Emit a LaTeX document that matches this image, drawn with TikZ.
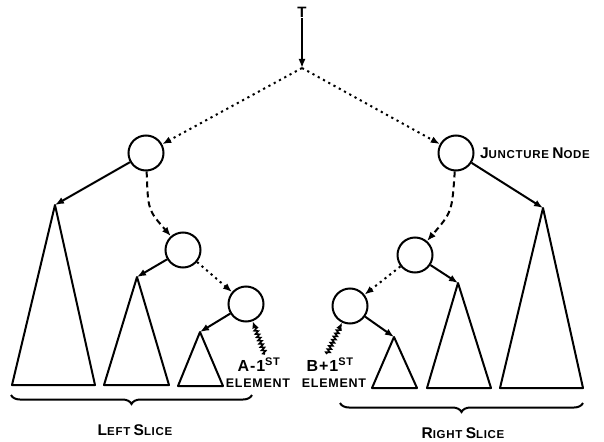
\documentclass[tikz,border=0pt]{standalone}
\usepackage{fontspec}
\setmainfont{Liberation Sans}[LetterSpace=6]
\usetikzlibrary{arrows.meta,decorations.pathmorphing,decorations.pathreplacing}
\newcommand{\bigsc}[2]{{\fontsize{15.5}{15.5}\selectfont #1}{\fontsize{11.5}{11.5}\selectfont #2}}
\begin{document}
\begin{tikzpicture}[x=1pt,y=-1pt, line width=2pt,
  nd/.style={circle,draw,minimum size=35pt,inner sep=0pt,line width=2pt},
  arr/.style={-{Latex[length=9pt,width=7pt]}},
  dotline/.style={arr,dash pattern=on 2.2pt off 3.8pt},
  dashline/.style={arr,dash pattern=on 6pt off 4pt},
  squig/.style={-{Latex[length=7pt,width=6pt]},line width=1.6pt,decorate,
    decoration={snake,amplitude=1.8pt,segment length=3.5pt,post length=6pt}},
  lbl/.style={font=\bfseries,inner sep=0pt},
  brc/.style={decorate,decoration={brace,amplitude=9pt,mirror},line width=2pt}]
\useasboundingbox (0,0) rectangle (604,441);
% top
\node[lbl,font=\bfseries\fontsize{15}{15}\selectfont] (T) at (302,12) {T};
\coordinate (top) at (302,68);
\draw[arr] (T.south) -- (top);
% nodes
\node[nd] (L1) at (146,153) {};
\node[nd] (L2) at (183,250) {};
\node[nd] (L3) at (246,304) {};
\node[nd] (R1) at (456,153) {};
\node[nd] (R2) at (415,255) {};
\node[nd] (R3) at (350,306) {};
% triangle apexes
\coordinate (ta1) at (55,205);
\coordinate (ta2) at (137,277);
\coordinate (ta3) at (200,332);
\coordinate (tb3) at (394,337);
\coordinate (tb2) at (458,283);
\coordinate (tb1) at (543,208);
% triangles
\draw[line join=round] (ta1) -- (12,385) -- (95,385) -- cycle;
\draw[line join=round] (ta2) -- (104,385) -- (169,385) -- cycle;
\draw[line join=round] (ta3) -- (178,386) -- (223,386) -- cycle;
\draw[line join=round] (tb3) -- (372,388) -- (417,388) -- cycle;
\draw[line join=round] (tb2) -- (427,388) -- (491,388) -- cycle;
\draw[line join=round] (tb1) -- (500,388) -- (583,388) -- cycle;
% edges
\draw[dotline] (top) -- (L1);
\draw[dotline] (top) -- (R1);
\draw[dashline] (L1) .. controls (148,210) .. (L2);
\draw[dashline] (R1) .. controls (452,212) .. (R2);
\draw[dotline] (L2) -- (L3);
\draw[dotline] (R2) -- (R3);
\draw[arr] (L1) -- (ta1);
\draw[arr] (L2) -- (ta2);
\draw[arr] (L3) -- (ta3);
\draw[arr] (R1) -- (tb1);
\draw[arr] (R2) -- (tb2);
\draw[arr] (R3) -- (tb3);
% labels
\node[lbl,anchor=west] (J) at (479,153) {\bigsc{J}{UNCTURE} \bigsc{N}{ODE}};
\node[lbl] (A1) at (259,365) {\fontsize{16}{16}\selectfont A-1\textsuperscript{\fontsize{11}{11}\selectfont ST}};
\node[lbl] (A2) at (258,383) {\fontsize{12.5}{12.5}\selectfont ELEMENT};
\node[lbl] (B1) at (330,365) {\fontsize{16}{16}\selectfont B+1\textsuperscript{\fontsize{11}{11}\selectfont ST}};
\node[lbl] (B2) at (334,383) {\fontsize{12.5}{12.5}\selectfont ELEMENT};
\coordinate (sa) at (265,354);
\coordinate (sb) at (327,354);
\draw[squig] (sa) -- (L3);
\draw[squig] (sb) -- (R3);
% braces
\coordinate (lb1) at (11,395);
\coordinate (lb2) at (252,395);
\coordinate (rb1) at (340,403);
\coordinate (rb2) at (583,403);
\draw[brc] (lb1) -- (lb2);
\draw[brc] (rb1) -- (rb2);
\node[lbl] (LS) at (135,430) {\bigsc{L}{EFT} \bigsc{S}{LICE}};
\node[lbl] (RS) at (463,433) {\bigsc{R}{IGHT} \bigsc{S}{LICE}};
\end{tikzpicture}
\end{document}
